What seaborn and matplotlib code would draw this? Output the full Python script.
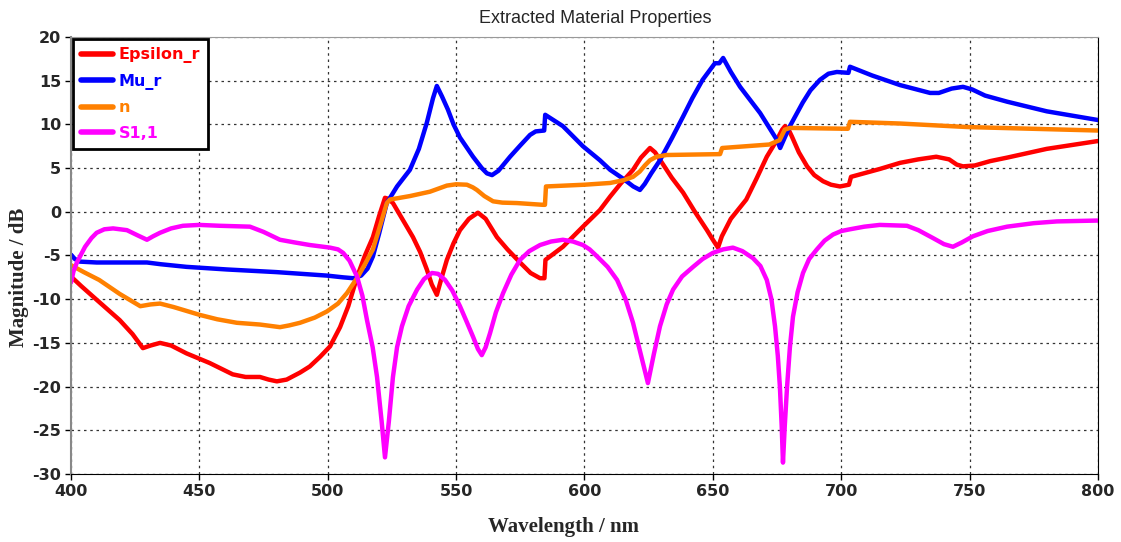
import matplotlib
matplotlib.use("Agg")
import matplotlib.pyplot as plt
import seaborn as sns
import pandas as pd

# values
eps_x = [400, 404, 408.6, 414, 419, 424, 428, 431, 434.7, 439, 445, 454, 463, 468, 473.6, 477, 480.2,
         484, 489.2, 493, 497, 500.9, 504.8, 508, 511.5, 514.5, 517.6, 520, 522.3, 523.5, 525.4, 529,
         533.2, 536, 538.6, 540.5, 542.5, 544.3, 546.4, 549, 551.5, 555, 558.5, 561.5, 565.9, 570,
         574.9, 579, 582.7, 584.4, 584.8, 591.6, 599.4, 606, 610, 614, 618.9, 622, 625.5, 627.5,
         630.2, 634, 638.4, 643, 647.7, 650, 652, 653.5, 657, 663, 667, 671, 674.5, 677, 678.1,
         679.5, 680.8, 683.5, 686.7, 689.5, 692.9, 696, 699.5, 703, 703.8, 715, 722.9, 730, 737,
         742, 745, 747.4, 752, 758, 764.6, 780, 800]
eps_y = [-7.4, -8.5, -9.7, -11.1, -12.4, -14.0, -15.6, -15.3, -15.0, -15.3, -16.2, -17.3, -18.6, -18.9,
         -18.9, -19.2, -19.4, -19.2, -18.4, -17.7, -16.6, -15.4, -13.2, -10.8, -7.4, -5.0, -2.9, -0.5,
         1.6, 1.5, 1.0, -0.8, -2.9, -4.6, -6.6, -8.3, -9.5, -7.6, -5.5, -3.6, -2.1, -0.8, -0.1, -0.8,
         -2.9, -4.3, -5.8, -7.0, -7.6, -7.6, -5.5, -4.0, -1.7, 0.2, 1.75, 3.2, 4.8, 6.2, 7.3, 6.8,
         5.6, 3.9, 2.2, 0.0, -2.1, -3.2, -4.1, -2.8, -0.8, 1.4, 3.8, 6.3, 8.0, 9.4, 9.8,
         9.4, 8.6, 6.8, 5.2, 4.2, 3.5, 3.1, 2.9, 3.1, 4.0, 4.9, 5.6, 6.0, 6.3,
         6.0, 5.4, 5.2, 5.3, 5.8, 6.2, 7.2, 8.1]

mu_x = [400, 401.5, 403.5, 410, 429.6, 435, 445, 460.8, 480, 499.7, 506, 510, 513, 515.5, 517.6,
        520, 523, 527, 532, 535.5, 538.6, 541, 542.5, 544.5, 546.8, 549, 551.5, 556.6, 560, 562,
        564, 566.5, 571, 575, 578.8, 581, 584.3, 584.7, 591.6, 599.4, 606, 610, 615, 619, 621.6,
        623.5, 626, 629.4, 634, 638.4, 642, 646, 650.8, 652.5, 654, 657, 660.6, 668.4, 675, 676.2,
        678, 680, 685, 688, 691.7, 695, 698.3, 702.8, 703.4, 712, 722.9, 734.6, 738, 743, 747.4,
        751, 756, 764.6, 780, 800]
mu_y = [-4.9, -5.4, -5.7, -5.8, -5.8, -6.0, -6.3, -6.6, -6.9, -7.3, -7.5, -7.6, -7.3, -6.5, -5.1,
        -2.5, 1.0, 2.9, 4.8, 7.2, 10.2, 13.0, 14.4, 13.2, 11.7, 10.0, 8.5, 6.3, 5.0, 4.4,
        4.2, 4.7, 6.3, 7.6, 8.8, 9.2, 9.3, 11.1, 9.8, 7.5, 5.9, 4.8, 3.8, 2.9, 2.5,
        3.2, 4.4, 5.9, 8.4, 10.9, 13.0, 15.1, 17.0, 17.0, 17.6, 16.0, 14.3, 11.3, 8.2, 7.3,
        8.5, 9.8, 12.5, 13.9, 15.1, 15.8, 16.0, 15.9, 16.6, 15.6, 14.5, 13.6, 13.6, 14.1, 14.3,
        14.0, 13.3, 12.6, 11.5, 10.5]

n_x = [400, 405, 411, 419, 427, 431, 434.7, 440, 450.2, 457, 464.6, 473.6, 481.4, 485, 489.2, 495,
       499.7, 504, 507.5, 511.8, 514.5, 517.6, 520.5, 523, 524.2, 532, 539.8, 546.4, 550, 554.2,
       556.5, 558.1, 561, 564.4, 568, 573.7, 583.8, 584.6, 585, 600, 610, 615, 618.9, 621.5, 623.5,
       625.5, 628, 632, 652.8, 653.6, 672, 676, 677, 678, 680, 702.6, 703.4, 723, 749, 800]
n_y = [-6.1, -6.9, -7.8, -9.4, -10.8, -10.6, -10.5, -10.9, -11.8, -12.3, -12.7, -12.9, -13.2, -13.0,
       -12.7, -12.1, -11.4, -10.5, -9.3, -7.4, -6.0, -4.3, -1.5, 1.0, 1.4, 1.8, 2.3, 3.0, 3.15, 3.1,
       2.8, 2.5, 1.8, 1.2, 1.05, 1.0, 0.8, 0.8, 2.9, 3.1, 3.3, 3.6, 4.0, 4.6, 5.3,
       5.9, 6.3, 6.5, 6.6, 7.3, 7.7, 8.2, 8.8, 9.4, 9.6, 9.5, 10.3, 10.1, 9.7, 9.3]

s11_x = [400, 401, 402.3, 405.5, 408, 410, 413, 416.4, 421.8, 426, 429.6, 432, 434.7, 439, 443.6, 450,
         458, 469.7, 475, 481.4, 487, 493, 500.9, 504, 506, 508.5, 511.4, 513.5, 515.3, 517.5, 519.2,
         521, 522.3, 523.8, 525.4, 527, 528.9, 531.5, 534.8, 537.5, 540.6, 543, 545.7, 548.5, 551.5,
         554, 556.6, 558.5, 560, 561.5, 563.2, 565.5, 568.3, 571.5, 574.9, 578.5, 582.7, 587, 591.6,
         595.5, 599.4, 602, 604.9, 609, 612.7, 616, 618.9, 621.5, 624.7, 627, 629.4, 632, 634.5, 638,
         642.3, 646, 650, 654, 657.8, 661.5, 665.6, 668.5, 671, 672.8, 674.2, 675.3, 676.1, 676.8,
         677.3, 678, 678.9, 680, 681.2, 683, 685.1, 687.5, 690.5, 693.5, 696.8, 700, 703.4, 709, 715,
         725.6, 730, 735.7, 740, 743.5, 747, 751.3, 757, 764.6, 775, 784, 800]
s11_y = [-8.1, -6.8, -5.8, -4.0, -3.0, -2.4, -2.0, -1.9, -2.1, -2.7, -3.2, -2.8, -2.4, -1.9, -1.6, -1.5,
         -1.6, -1.7, -2.3, -3.2, -3.5, -3.8, -4.1, -4.3, -4.7, -5.6, -7.4, -9.6, -12.4, -15.5, -18.9,
         -24.0, -28.1, -24.0, -18.9, -15.5, -13.1, -10.8, -8.9, -7.7, -7.0, -7.1, -7.8, -9.0, -10.8,
         -12.5, -14.3, -15.7, -16.4, -15.5, -13.9, -11.5, -9.3, -7.2, -5.5, -4.5, -3.8, -3.4, -3.2,
         -3.4, -3.8, -4.3, -5.1, -6.3, -7.8, -10.0, -12.7, -15.8, -19.6, -16.3, -13.1, -10.6, -8.9, -7.4,
         -6.3, -5.4, -4.7, -4.3, -4.1, -4.5, -5.3, -6.2, -7.8, -10.0, -13.1, -16.5, -20.0, -24.5,
         -28.7, -24.5, -20.0, -15.5, -12.0, -9.2, -7.0, -5.4, -4.3, -3.3, -2.6, -2.2, -2.0, -1.7, -1.5,
         -1.6, -2.1, -3.0, -3.7, -4.0, -3.5, -2.8, -2.2, -1.7, -1.3, -1.1, -1.0]

names = ["Epsilon_r", "Mu_r", "n", "S1,1"]
colors = ["#ff0000", "#0000ff", "#ff8000", "#ff00ff"]

frames = []
for name, xs, ys in zip(names, [eps_x, mu_x, n_x, s11_x], [eps_y, mu_y, n_y, s11_y]):
    frames.append(pd.DataFrame({"Wavelength": xs, "Magnitude": ys, "curve": name}))
df = pd.concat(frames, ignore_index=True)

sns.set_style("white")
plt.rcParams["axes.unicode_minus"] = False
fig = plt.figure(figsize=(11.21, 5.42), dpi=100)
ax = fig.add_axes([0.0633, 0.1255, 0.9162, 0.8062])

sns.lineplot(data=df, x="Wavelength", y="Magnitude", hue="curve", palette=colors,
             estimator=None, sort=False, linewidth=3.2, ax=ax)
for line in ax.get_lines():
    line.set_solid_joinstyle("round")
    line.set_solid_capstyle("round")

ax.set_xlim(400, 800)
ax.set_ylim(-30, 20)
ax.set_xticks(range(400, 801, 50))
ax.set_yticks(range(-30, 21, 5))
ax.grid(True, color="#333333", linestyle=(0, (2, 3)), linewidth=0.9)

for lab in ax.get_xticklabels() + ax.get_yticklabels():
    lab.set_fontweight("bold")
    lab.set_fontsize(11.5)
    lab.set_family("DejaVu Sans")
ax.tick_params(axis="both", direction="out", length=4, width=1, color="black", pad=3, bottom=True, left=True)

ax.spines["top"].set_color("#999999")
ax.spines["left"].set_color("#888888")
ax.spines["left"].set_linewidth(1.5)
ax.spines["bottom"].set_color("black")
ax.spines["right"].set_color("black")

ax.set_xlabel("Wavelength / nm", family="Liberation Serif", fontweight="bold", fontsize=15)
ax.xaxis.set_label_coords(0.48, -0.098)
ax.xaxis.label.set_va("top")
ax.set_ylabel("Magnitude / dB", family="Liberation Serif", fontweight="bold", fontsize=15)
ax.yaxis.set_label_coords(-0.041, 0.45)
ax.set_title("Extracted Material Properties", family="Liberation Sans", fontsize=13, pad=10, x=0.51)

leg = ax.legend(loc="upper left", borderaxespad=0.15, fancybox=False, handlelength=2.0,
                prop={"family": "DejaVu Sans", "weight": "bold", "size": 11.5},
                borderpad=0.5, labelspacing=0.66, handletextpad=0.35)
leg.get_frame().set_edgecolor("black")
leg.get_frame().set_linewidth(2)
leg.get_frame().set_alpha(1)
for txt, c in zip(leg.get_texts(), colors):
    txt.set_color(c)
for line in leg.get_lines():
    line.set_linewidth(4)

fig.savefig("out.png", dpi=100)
